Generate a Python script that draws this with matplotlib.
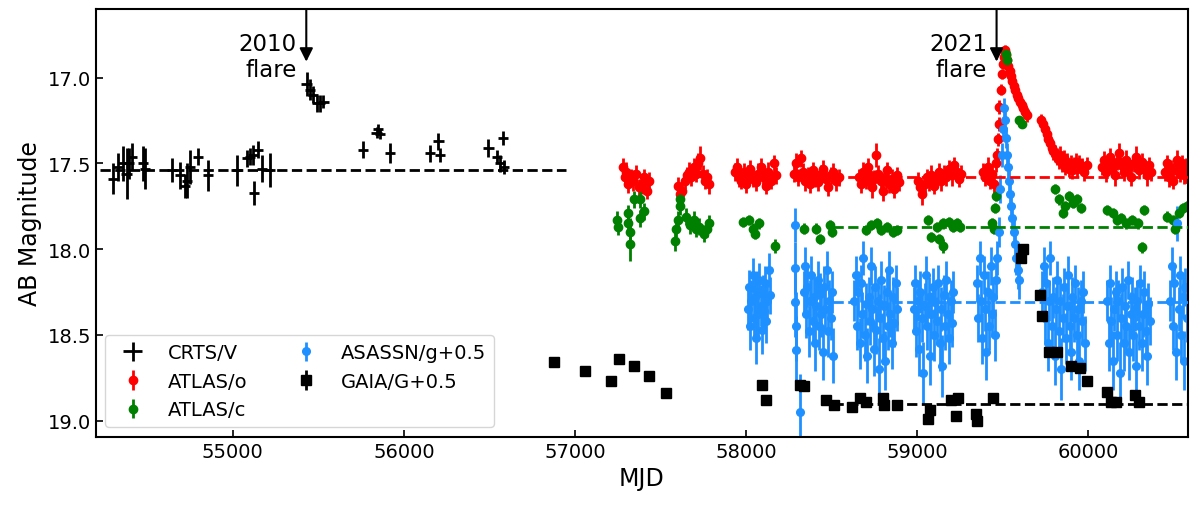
import numpy as np
import matplotlib
matplotlib.use("Agg")
import matplotlib.pyplot as plt

# (MJD, mag, err)
CRTS_V = np.array([
    (54302, 17.59, 0.09), (54331, 17.52, 0.08), (54361, 17.50, 0.10), (54380, 17.56, 0.15),
    (54396, 17.50, 0.09), (54410, 17.46, 0.08), (54478, 17.50, 0.10), (54487, 17.53, 0.12),
    (54644, 17.54, 0.07), (54692, 17.57, 0.08), (54721, 17.63, 0.07), (54731, 17.60, 0.10),
    (54750, 17.52, 0.10), (54799, 17.46, 0.05), (54857, 17.57, 0.09), (55023, 17.54, 0.09),
    (55082, 17.47, 0.05), (55101, 17.46, 0.05), (55119, 17.45, 0.06), (55126, 17.67, 0.07),
    (55150, 17.42, 0.05), (55170, 17.53, 0.08), (55218, 17.54, 0.10), (55432, 17.04, 0.07),
    (55452, 17.07, 0.06), (55470, 17.10, 0.05), (55491, 17.15, 0.05), (55510, 17.15, 0.05),
    (55530, 17.14, 0.04), (55763, 17.42, 0.05), (55841, 17.32, 0.03), (55851, 17.30, 0.03),
    (55861, 17.33, 0.03), (55919, 17.44, 0.06), (56153, 17.44, 0.05), (56202, 17.37, 0.05),
    (56211, 17.45, 0.04), (56494, 17.41, 0.05), (56543, 17.46, 0.04), (56581, 17.35, 0.04),
    (56562, 17.50, 0.05), (56585, 17.52, 0.04),
])
CRTS_XERR = 30

ATLAS_O = np.array([
    (57280, 17.52, 0.05), (57290, 17.58, 0.05), (57300, 17.55, 0.06), (57312, 17.62, 0.05),
    (57325, 17.58, 0.05), (57340, 17.60, 0.06), (57355, 17.56, 0.05), (57372, 17.64, 0.05),
    (57390, 17.62, 0.06), (57405, 17.58, 0.05), (57418, 17.66, 0.05), (57430, 17.60, 0.05),
    (57600, 17.63, 0.05), (57612, 17.68, 0.06), (57625, 17.66, 0.05), (57640, 17.60, 0.05),
    (57655, 17.57, 0.05), (57668, 17.55, 0.06), (57680, 17.58, 0.05), (57695, 17.52, 0.05),
    (57708, 17.56, 0.05), (57720, 17.50, 0.06), (57732, 17.47, 0.07), (57745, 17.56, 0.05),
    (57758, 17.60, 0.05), (57770, 17.58, 0.05), (57785, 17.62, 0.06),
    (57932, 17.55, 0.05), (57945, 17.52, 0.05), (57958, 17.58, 0.06), (57970, 17.60, 0.05),
    (57985, 17.55, 0.05), (57998, 17.62, 0.05), (58010, 17.57, 0.06), (58025, 17.53, 0.05),
    (58040, 17.59, 0.05), (58055, 17.61, 0.05), (58070, 17.56, 0.06), (58085, 17.52, 0.05),
    (58100, 17.58, 0.05), (58115, 17.63, 0.05), (58130, 17.55, 0.06), (58145, 17.60, 0.05),
    (58160, 17.50, 0.05), (58172, 17.57, 0.05),
    (58280, 17.56, 0.05), (58292, 17.50, 0.06), (58305, 17.58, 0.05), (58318, 17.47, 0.05),
    (58330, 17.55, 0.05), (58345, 17.60, 0.06), (58360, 17.57, 0.05), (58375, 17.62, 0.05),
    (58390, 17.54, 0.05), (58405, 17.58, 0.06), (58420, 17.61, 0.05), (58435, 17.56, 0.05),
    (58450, 17.53, 0.05), (58465, 17.59, 0.06), (58480, 17.64, 0.05), (58495, 17.57, 0.05),
    (58510, 17.55, 0.05), (58525, 17.60, 0.06), (58540, 17.58, 0.05),
    (58660, 17.58, 0.05), (58672, 17.62, 0.05), (58685, 17.55, 0.06), (58698, 17.60, 0.05),
    (58710, 17.52, 0.05), (58722, 17.57, 0.05), (58735, 17.64, 0.06), (58748, 17.59, 0.05),
    (58760, 17.45, 0.07), (58772, 17.56, 0.05), (58785, 17.60, 0.05), (58798, 17.66, 0.06),
    (58810, 17.58, 0.05), (58823, 17.54, 0.05), (58836, 17.62, 0.05), (58850, 17.59, 0.06),
    (58865, 17.65, 0.05), (58880, 17.57, 0.05), (58895, 17.61, 0.05),
    (59005, 17.60, 0.05), (59018, 17.64, 0.05), (59030, 17.68, 0.06), (59042, 17.62, 0.05),
    (59055, 17.58, 0.05), (59068, 17.61, 0.05), (59080, 17.57, 0.06), (59095, 17.63, 0.05),
    (59110, 17.59, 0.05), (59125, 17.55, 0.05), (59140, 17.60, 0.06), (59155, 17.56, 0.05),
    (59170, 17.58, 0.05), (59185, 17.53, 0.05), (59200, 17.57, 0.06), (59215, 17.51, 0.05),
    (59230, 17.55, 0.05), (59245, 17.59, 0.05), (59258, 17.56, 0.05),
    (59385, 17.55, 0.05), (59398, 17.58, 0.05), (59410, 17.52, 0.06), (59422, 17.60, 0.05),
    (59435, 17.56, 0.05), (59448, 17.62, 0.05), (59458, 17.50, 0.05), (59466, 17.45, 0.04),
    (59472, 17.36, 0.04), (59476, 17.27, 0.04), (59480, 17.17, 0.04), (59486, 17.07, 0.03),
    (59492, 16.98, 0.03), (59498, 16.92, 0.03), (59504, 16.88, 0.03), (59510, 16.85, 0.03),
    (59515, 16.84, 0.03), (59520, 16.87, 0.03), (59526, 16.90, 0.03), (59532, 16.93, 0.03),
    (59540, 16.96, 0.03), (59548, 16.99, 0.03), (59556, 17.02, 0.03), (59564, 17.05, 0.03),
    (59572, 17.07, 0.03), (59580, 17.10, 0.03), (59590, 17.12, 0.03), (59600, 17.14, 0.03),
    (59610, 17.16, 0.03), (59620, 17.18, 0.03), (59630, 17.20, 0.04), (59640, 17.22, 0.04),
    (59725, 17.25, 0.04), (59735, 17.27, 0.04), (59745, 17.30, 0.04), (59755, 17.33, 0.04),
    (59765, 17.36, 0.04), (59775, 17.38, 0.04), (59785, 17.41, 0.05), (59795, 17.43, 0.05),
    (59805, 17.44, 0.05), (59815, 17.46, 0.05), (59825, 17.48, 0.05), (59835, 17.45, 0.05),
    (59845, 17.50, 0.05), (59855, 17.47, 0.05), (59865, 17.52, 0.05), (59875, 17.49, 0.05),
    (59885, 17.53, 0.05), (59895, 17.50, 0.05), (59905, 17.54, 0.05), (59915, 17.51, 0.05),
    (59925, 17.49, 0.05), (59935, 17.53, 0.05), (59945, 17.50, 0.05), (59960, 17.52, 0.05),
    (59975, 17.55, 0.05), (59990, 17.51, 0.05),
    (60078, 17.52, 0.05), (60090, 17.48, 0.05), (60102, 17.55, 0.06), (60115, 17.50, 0.05),
    (60128, 17.46, 0.05), (60140, 17.53, 0.05), (60152, 17.57, 0.06), (60165, 17.49, 0.05),
    (60178, 17.44, 0.06), (60190, 17.51, 0.05), (60205, 17.55, 0.05), (60220, 17.48, 0.06),
    (60235, 17.52, 0.05), (60250, 17.58, 0.05), (60265, 17.50, 0.05), (60280, 17.46, 0.06),
    (60295, 17.54, 0.05), (60310, 17.49, 0.05), (60325, 17.53, 0.05), (60340, 17.57, 0.06),
    (60355, 17.51, 0.05), (60365, 17.55, 0.05),
    (60445, 17.55, 0.05), (60458, 17.50, 0.05), (60470, 17.58, 0.06), (60482, 17.53, 0.05),
    (60495, 17.60, 0.05), (60508, 17.52, 0.05), (60520, 17.48, 0.06), (60532, 17.56, 0.05),
    (60545, 17.50, 0.05), (60558, 17.57, 0.05), (60570, 17.53, 0.06), (60580, 17.59, 0.05),
])

ATLAS_C = np.array([
    (57247, 17.83, 0.05), (57254, 17.87, 0.05), (57312, 17.79, 0.05), (57312, 17.85, 0.06),
    (57323, 17.90, 0.08), (57323, 17.97, 0.10), (57346, 17.71, 0.05), (57381, 17.71, 0.05),
    (57381, 17.82, 0.05), (57404, 17.78, 0.05),
    (57582, 17.95, 0.06), (57589, 17.88, 0.05), (57600, 17.83, 0.05), (57612, 17.75, 0.05),
    (57612, 17.71, 0.05), (57647, 17.81, 0.05), (57670, 17.86, 0.05), (57693, 17.83, 0.05),
    (57704, 17.88, 0.05), (57727, 17.87, 0.05), (57751, 17.91, 0.05), (57774, 17.88, 0.05),
    (57785, 17.85, 0.05),
    (57982, 17.84, 0.03), (58016, 17.83, 0.03), (58039, 17.88, 0.03), (58051, 17.91, 0.03),
    (58074, 17.85, 0.03), (58166, 17.98, 0.04),
    (58340, 17.88, 0.03), (58409, 17.88, 0.03), (58432, 17.94, 0.03), (58490, 17.86, 0.03),
    (58501, 17.90, 0.03),
    (58698, 17.89, 0.03), (58732, 17.86, 0.03), (58767, 17.85, 0.03), (58790, 17.89, 0.03),
    (58825, 17.87, 0.03), (58860, 17.90, 0.03), (58882, 17.89, 0.03),
    (59063, 17.83, 0.03), (59079, 17.93, 0.03), (59113, 17.87, 0.03), (59125, 17.94, 0.03),
    (59148, 17.85, 0.03), (59148, 17.98, 0.04), (59183, 17.84, 0.03), (59206, 17.87, 0.03),
    (59229, 17.85, 0.03), (59252, 17.87, 0.03),
    (59437, 17.85, 0.03), (59448, 17.88, 0.03), (59455, 17.76, 0.03), (59460, 17.69, 0.03),
    (59516, 16.86, 0.02), (59524, 16.90, 0.02), (59595, 17.25, 0.02), (59612, 17.27, 0.02),
    (59806, 17.65, 0.03), (59830, 17.71, 0.03), (59853, 17.79, 0.03), (59864, 17.75, 0.03),
    (59888, 17.69, 0.03), (59911, 17.73, 0.03), (59934, 17.71, 0.03), (59957, 17.76, 0.03),
    (60107, 17.77, 0.03), (60142, 17.79, 0.03), (60165, 17.83, 0.03), (60188, 17.82, 0.03),
    (60222, 17.85, 0.03), (60257, 17.83, 0.03), (60292, 17.85, 0.03), (60315, 17.99, 0.03),
    (60327, 17.77, 0.03),
    (60459, 17.81, 0.03), (60494, 17.83, 0.03), (60505, 17.88, 0.03), (60529, 17.79, 0.03),
    (60552, 17.76, 0.03), (60575, 17.75, 0.03),
])

# ASAS-SN g, already shifted by +0.5 mag
ASASSN_G = np.array([
    (58008, 18.35, 0.12), (58015, 18.22, 0.10), (58022, 18.45, 0.14), (58030, 18.30, 0.12),
    (58037, 18.15, 0.10), (58044, 18.40, 0.13), (58050, 18.28, 0.11), (58057, 18.52, 0.15),
    (58064, 18.25, 0.12), (58070, 18.38, 0.13), (58077, 18.18, 0.10), (58084, 18.33, 0.12),
    (58090, 18.47, 0.14), (58097, 18.26, 0.11), (58104, 18.36, 0.12), (58110, 18.20, 0.10),
    (58117, 18.42, 0.13), (58124, 18.30, 0.12), (58132, 18.12, 0.10), (58140, 18.27, 0.11),
    (58284, 17.86, 0.10), (58286, 18.11, 0.15), (58288, 18.31, 0.20), (58290, 18.45, 0.20),
    (58292, 18.59, 0.20), (58316, 18.95, 0.22),
    (58335, 18.25, 0.12), (58342, 18.10, 0.11), (58350, 18.38, 0.14), (58358, 18.22, 0.12),
    (58365, 18.48, 0.15), (58372, 18.30, 0.12), (58380, 18.15, 0.11), (58388, 18.42, 0.14),
    (58395, 18.28, 0.12), (58402, 18.55, 0.16), (58410, 18.33, 0.13), (58418, 18.18, 0.11),
    (58425, 18.45, 0.14), (58433, 18.26, 0.12), (58440, 18.38, 0.13), (58448, 18.60, 0.16),
    (58455, 18.22, 0.12), (58462, 18.35, 0.13), (58470, 18.12, 0.11), (58478, 18.48, 0.15),
    (58485, 18.30, 0.12), (58493, 18.40, 0.13), (58500, 18.25, 0.12), (58508, 18.62, 0.16),
    (58632, 18.30, 0.12), (58640, 18.15, 0.11), (58648, 18.45, 0.14), (58655, 18.25, 0.12),
    (58663, 18.55, 0.15), (58670, 18.20, 0.11), (58678, 18.38, 0.13), (58685, 18.05, 0.10),
    (58693, 18.50, 0.15), (58700, 18.32, 0.12), (58708, 18.62, 0.16), (58715, 18.28, 0.12),
    (58723, 18.42, 0.14), (58730, 18.10, 0.11), (58738, 18.35, 0.13), (58745, 18.58, 0.16),
    (58753, 18.22, 0.12), (58760, 18.47, 0.14), (58768, 18.30, 0.12), (58775, 18.70, 0.18),
    (58783, 18.40, 0.14), (58790, 18.18, 0.11), (58798, 18.52, 0.15), (58805, 18.33, 0.12),
    (58813, 18.65, 0.17), (58820, 18.25, 0.12), (58828, 18.45, 0.14), (58835, 18.12, 0.11),
    (58843, 18.38, 0.13), (58850, 18.55, 0.15), (58858, 18.28, 0.12), (58865, 18.43, 0.14),
    (58873, 18.20, 0.11), (58880, 18.35, 0.13),
    (58978, 18.35, 0.13), (58986, 18.20, 0.11), (58994, 18.48, 0.15), (59002, 18.30, 0.12),
    (59010, 18.58, 0.16), (59018, 18.25, 0.12), (59026, 18.40, 0.14), (59034, 18.72, 0.18),
    (59042, 18.33, 0.13), (59050, 18.15, 0.11), (59058, 18.45, 0.14), (59066, 18.28, 0.12),
    (59074, 18.62, 0.17), (59082, 18.38, 0.13), (59090, 18.22, 0.11), (59098, 18.50, 0.15),
    (59106, 18.31, 0.12), (59114, 18.42, 0.14), (59122, 18.20, 0.11), (59130, 18.55, 0.16),
    (59138, 18.35, 0.13), (59146, 18.68, 0.18), (59154, 18.27, 0.12), (59162, 18.45, 0.14),
    (59170, 18.18, 0.11), (59178, 18.38, 0.13), (59186, 18.52, 0.15), (59194, 18.30, 0.12),
    (59202, 18.43, 0.14), (59210, 18.25, 0.12),
    (59348, 18.20, 0.11), (59356, 18.40, 0.14), (59364, 18.05, 0.10), (59372, 18.30, 0.12),
    (59380, 18.52, 0.15), (59388, 18.15, 0.11), (59396, 18.35, 0.13), (59404, 18.60, 0.16),
    (59412, 18.25, 0.12), (59420, 18.45, 0.14), (59428, 18.10, 0.11), (59436, 18.38, 0.13),
    (59444, 18.28, 0.12), (59452, 18.50, 0.15), (59460, 18.18, 0.11), (59468, 18.05, 0.10),
    (59476, 17.90, 0.09), (59485, 17.65, 0.08), (59492, 17.45, 0.07), (59498, 17.30, 0.06),
    (59505, 17.18, 0.06), (59512, 17.25, 0.06), (59518, 17.35, 0.06), (59524, 17.45, 0.07),
    (59530, 17.52, 0.07), (59536, 17.60, 0.07), (59542, 17.68, 0.08), (59548, 17.75, 0.08),
    (59555, 17.82, 0.09), (59562, 17.90, 0.09), (59570, 17.97, 0.10), (59578, 18.05, 0.10),
    (59586, 18.12, 0.11), (59594, 18.18, 0.11),
    (59730, 18.25, 0.12), (59738, 18.10, 0.11), (59746, 18.40, 0.14), (59754, 18.20, 0.11),
    (59762, 18.55, 0.16), (59770, 18.30, 0.12), (59778, 18.05, 0.10), (59786, 18.45, 0.14),
    (59794, 18.28, 0.12), (59802, 18.62, 0.17), (59810, 18.35, 0.13), (59818, 18.18, 0.11),
    (59826, 18.48, 0.15), (59834, 18.30, 0.12), (59842, 18.70, 0.18), (59850, 18.40, 0.14),
    (59858, 18.22, 0.11), (59866, 18.52, 0.15), (59874, 18.33, 0.13), (59882, 18.15, 0.11),
    (59890, 18.45, 0.14), (59898, 18.60, 0.16), (59906, 18.28, 0.12), (59914, 18.40, 0.14),
    (59922, 18.20, 0.11), (59930, 18.50, 0.15), (59938, 18.35, 0.13), (59946, 18.65, 0.17),
    (59954, 18.30, 0.12), (59962, 18.42, 0.14), (59970, 18.25, 0.12), (59978, 18.55, 0.16),
    (60110, 18.30, 0.12), (60118, 18.55, 0.16), (60126, 18.20, 0.11), (60134, 18.42, 0.14),
    (60142, 18.65, 0.17), (60150, 18.35, 0.13), (60158, 18.25, 0.12), (60166, 18.50, 0.15),
    (60174, 18.30, 0.12), (60182, 18.72, 0.18), (60190, 18.40, 0.14), (60198, 18.22, 0.11),
    (60206, 18.55, 0.16), (60214, 18.33, 0.13), (60222, 18.45, 0.14), (60230, 18.18, 0.11),
    (60238, 18.60, 0.16), (60246, 18.38, 0.13), (60254, 18.28, 0.12), (60262, 18.50, 0.15),
    (60270, 18.35, 0.13), (60278, 18.68, 0.18), (60286, 18.30, 0.12), (60294, 18.45, 0.14),
    (60302, 18.20, 0.11), (60310, 18.55, 0.16), (60318, 18.38, 0.13), (60326, 18.25, 0.12),
    (60334, 18.48, 0.15), (60342, 18.62, 0.17), (60350, 18.32, 0.12), (60358, 18.42, 0.14),
    (60478, 18.30, 0.12), (60486, 18.10, 0.11), (60494, 18.45, 0.14), (60502, 18.20, 0.11),
    (60510, 18.60, 0.16), (60518, 17.85, 0.10), (60526, 18.35, 0.13), (60534, 18.15, 0.11),
    (60542, 18.50, 0.15), (60550, 18.28, 0.12), (60558, 18.65, 0.17), (60566, 18.22, 0.11),
    (60574, 18.40, 0.14), (60582, 18.30, 0.12),
])

# Gaia G, already shifted by +0.5 mag
GAIA_G = np.array([
    (56879, 18.66, 0.01), (57057, 18.71, 0.01), (57208, 18.77, 0.01), (57258, 18.64, 0.01),
    (57346, 18.68, 0.01), (57432, 18.74, 0.01), (57531, 18.84, 0.01), (58090, 18.79, 0.01),
    (58116, 18.88, 0.01), (58312, 18.79, 0.01), (58340, 18.80, 0.01), (58467, 18.88, 0.01),
    (58513, 18.91, 0.01), (58617, 18.92, 0.01), (58663, 18.87, 0.01), (58702, 18.89, 0.01),
    (58802, 18.87, 0.01), (58808, 18.91, 0.01), (58882, 18.91, 0.01), (59063, 18.99, 0.01),
    (59072, 18.94, 0.01), (59194, 18.88, 0.01), (59224, 18.97, 0.01), (59240, 18.87, 0.01),
    (59340, 18.96, 0.01), (59349, 19.00, 0.01), (59441, 18.87, 0.01), (59603, 18.05, 0.01),
    (59617, 18.00, 0.01), (59714, 18.27, 0.01), (59730, 18.39, 0.01), (59767, 18.60, 0.01),
    (59818, 18.60, 0.01), (59899, 18.68, 0.01), (59950, 18.69, 0.01), (59991, 18.77, 0.01),
    (60111, 18.83, 0.01), (60130, 18.89, 0.01), (60158, 18.89, 0.01), (60273, 18.85, 0.01),
    (60296, 18.89, 0.01),
])

# quiescent baselines: (label, mag, start, end, colour)
BASELINES = [
    ("crts", 17.54, 54225, 56950, "black"),
    ("atlas_o", 17.58, 58510, 60580, "red"),
    ("atlas_c", 17.87, 58510, 60580, "green"),
    ("asassn", 18.31, 58510, 60580, "dodgerblue"),
    ("gaia", 18.90, 58510, 60580, "black"),
]

FLARES = [("2010\nflare", 55430), ("2021\nflare", 59463)]

XLIM = (54200, 60580)
YLIM = (19.095, 16.60)

fig = plt.figure(figsize=(12, 5.1), dpi=100)
ax = fig.add_axes([0.0798, 0.1412, 0.91, 0.8392])

ax.errorbar(CRTS_V[:, 0], CRTS_V[:, 1], yerr=CRTS_V[:, 2], xerr=CRTS_XERR,
            fmt="none", ecolor="black", elinewidth=2, label="CRTS/V")
ax.errorbar(ATLAS_O[:, 0], ATLAS_O[:, 1], yerr=ATLAS_O[:, 2], fmt="o",
            color="red", ms=6, elinewidth=2, label="ATLAS/o")
ax.errorbar(ATLAS_C[:, 0], ATLAS_C[:, 1], yerr=ATLAS_C[:, 2], fmt="o",
            color="green", ms=6, elinewidth=2, label="ATLAS/c")
ax.errorbar(ASASSN_G[:, 0], ASASSN_G[:, 1], yerr=ASASSN_G[:, 2], fmt="o",
            color="dodgerblue", ms=5.5, elinewidth=2, label="ASASSN/g+0.5")
ax.errorbar(GAIA_G[:, 0], GAIA_G[:, 1], yerr=GAIA_G[:, 2], fmt="s",
            color="black", ms=7, elinewidth=2, label="GAIA/G+0.5")

for _, mag, x0, x1, col in BASELINES:
    ax.plot([x0, x1], [mag, mag], ls="--", color=col, lw=2, zorder=3)

for text, x in FLARES:
    ax.annotate("", xy=(x, 16.907), xytext=(x, YLIM[1]),
                arrowprops=dict(arrowstyle="-|>", color="black", lw=1.5,
                                mutation_scale=20, shrinkA=0, shrinkB=0))
    ax.text(x - 55, 16.876, text, ha="right", va="center", fontsize=16.5)

ax.set_xlim(*XLIM)
ax.set_ylim(*YLIM)
ax.set_xlabel("MJD", fontsize=17)
ax.set_ylabel("AB Magnitude", fontsize=17)
ax.tick_params(direction="in", labelsize=14, length=5, width=1.2)
for s in ax.spines.values():
    s.set_linewidth(1.5)

ax.legend(loc="lower left", ncol=2, fontsize=14)

fig.savefig("out.png", dpi=100)
